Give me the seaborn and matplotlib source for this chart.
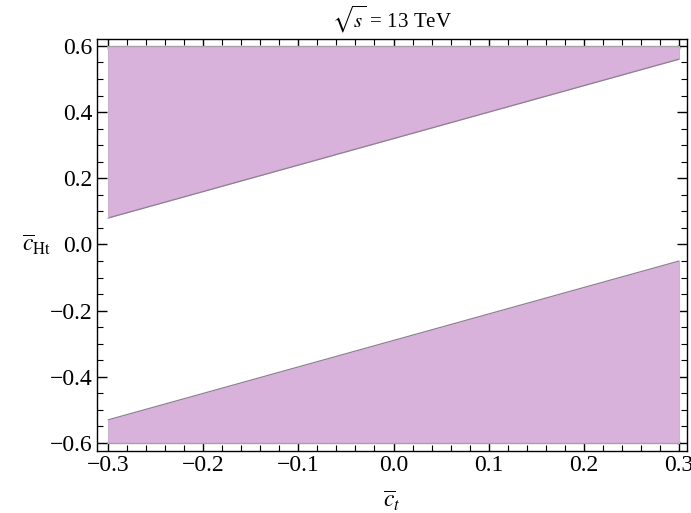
import numpy as np
import pandas as pd
import seaborn as sns
import matplotlib
matplotlib.use("Agg")
import matplotlib.pyplot as plt
from matplotlib.ticker import MultipleLocator

# ---- data ----
ct = [-0.3, 0.3]                 # c_t range
upper_lower_edge = [0.08, 0.56]  # lower boundary of upper allowed region
lower_upper_edge = [-0.53, -0.05]  # upper boundary of lower allowed region
y_top = [0.6, 0.6]
y_bottom = [-0.6, -0.6]

sns.set_theme(style="ticks")
plt.rcParams["font.family"] = ["Liberation Serif", "DejaVu Serif"]
plt.rcParams["mathtext.fontset"] = "stix"
plt.rcParams["text.color"] = "black"
plt.rcParams["axes.labelcolor"] = "black"
plt.rcParams["xtick.labelcolor"] = "black"
plt.rcParams["ytick.labelcolor"] = "black"

fill_color = "#d8b2da"
edge_color = "#8f7f92"

fig = plt.figure(figsize=(6.91, 5.13), dpi=100)
ax = fig.add_axes([0.1404, 0.1209, 0.9942 - 0.1404, 0.924 - 0.1209])

ax.fill_between(ct, upper_lower_edge, y_top, color=fill_color, linewidth=0, zorder=1)
ax.fill_between(ct, y_bottom, lower_upper_edge, color=fill_color, linewidth=0, zorder=1)

df = pd.DataFrame({
    "x": ct * 4,
    "y": upper_lower_edge + y_top + lower_upper_edge + y_bottom,
    "seg": ["a"] * 2 + ["b"] * 2 + ["c"] * 2 + ["d"] * 2,
})
for seg, lw, col in [("a", 0.9, edge_color), ("b", 1.0, "#a9a0aa"),
                     ("c", 0.9, edge_color), ("d", 1.0, "#a9a0aa")]:
    sub = df[df.seg == seg]
    sns.lineplot(data=sub, x="x", y="y", ax=ax, color=col, linewidth=lw,
                 legend=False, zorder=2)
# vertical side edges
for xv, lo, hi in [(ct[0], upper_lower_edge[0], y_top[0]), (ct[1], upper_lower_edge[1], y_top[1]),
                   (ct[0], y_bottom[0], lower_upper_edge[0]), (ct[1], y_bottom[1], lower_upper_edge[1])]:
    ax.plot([xv, xv], [lo, hi], color="#c9b3cb", linewidth=0.8, zorder=2)

ax.set_xlim(-0.3116, 0.3084)
ax.set_ylim(-0.624, 0.621)

ax.xaxis.set_major_locator(MultipleLocator(0.1))
ax.xaxis.set_minor_locator(MultipleLocator(0.02))
ax.yaxis.set_major_locator(MultipleLocator(0.2))
ax.yaxis.set_minor_locator(MultipleLocator(0.05))

def fmt(v, pos=None):
    s = f"{v:.1f}"
    if s == "-0.0":
        s = "0.0"
    return s.replace("-", "\u2212")

ax.xaxis.set_major_formatter(plt.FuncFormatter(fmt))
ax.yaxis.set_major_formatter(plt.FuncFormatter(fmt))

ax.tick_params(which="both", direction="in", top=True, right=True, color="black")
ax.tick_params(which="major", length=7, width=1.0, labelsize=17, pad=3)
ax.tick_params(which="minor", length=4, width=0.8)
for sp in ax.spines.values():
    sp.set_color("black")
    sp.set_linewidth(1.0)

ax.set_xlabel(r"$\overline{c}_{t}$", fontsize=17, labelpad=9)
ax.set_ylabel(r"$\overline{c}_{\rm Ht}$", fontsize=17, rotation=0, labelpad=10, va="center")
ax.set_title(r"$\sqrt{s}$ = 13 TeV", fontsize=15, pad=8)

fig.savefig("out.png", dpi=100)
